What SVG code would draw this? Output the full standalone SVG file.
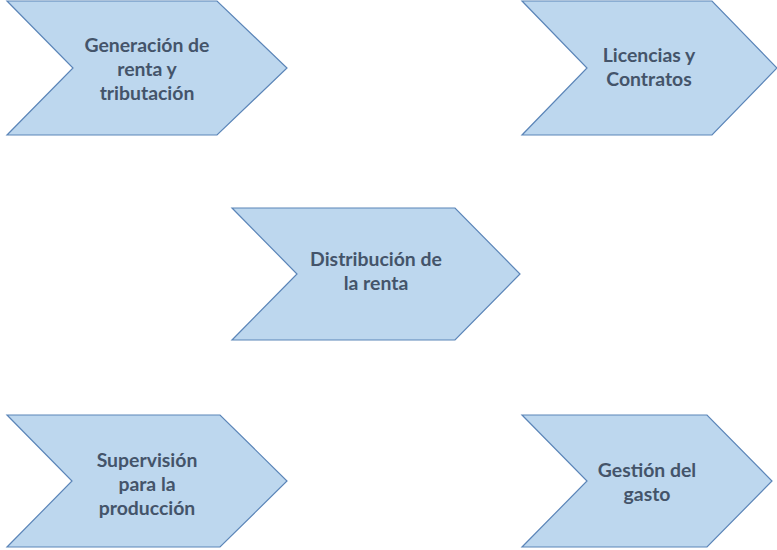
<svg xmlns="http://www.w3.org/2000/svg" width="777" height="550" viewBox="0 0 777 550">
<style>
.chev{fill:#BDD7EE;stroke:#5B85B8;stroke-width:1.2;stroke-linejoin:miter}
.lbl{font-family:Lato,"Liberation Sans",sans-serif;font-weight:bold;font-size:19.4px;fill:#44546A;text-anchor:middle}
</style>
<rect width="777" height="550" fill="#FFFFFF"/>
<g id="connectors"></g>
<g id="node-generacion">
<polygon class="chev" points="7,1 217,1 287,68 217,135 7,135 73,68"/>
<text class="lbl" x="147" y="52">Generación de</text>
<text class="lbl" x="147" y="76">renta y</text>
<text class="lbl" x="147" y="100">tributación</text>
</g>
<g id="node-licencias">
<polygon class="chev" points="522,1 712,1 777,68 712,135 522,135 587,68"/>
<text class="lbl" x="649" y="62">Licencias y</text>
<text class="lbl" x="649" y="86">Contratos</text>
</g>
<g id="node-distribucion">
<polygon class="chev" points="232,208 455,208 520,274 455,340 232,340 297,274"/>
<text class="lbl" x="376" y="266">Distribución de</text>
<text class="lbl" x="376" y="290">la renta</text>
</g>
<g id="node-supervision">
<polygon class="chev" points="7,415 220,415 287,481 220,547 7,547 72,481"/>
<text class="lbl" x="147" y="467">Supervisión</text>
<text class="lbl" x="147" y="491">para la</text>
<text class="lbl" x="147" y="515">producción</text>
</g>
<g id="node-gestion">
<polygon class="chev" points="522,415 707,415 772,481 707,547 522,547 587,481"/>
<text class="lbl" x="647" y="477">Gestión del</text>
<text class="lbl" x="647" y="501">gasto</text>
</g>
</svg>
